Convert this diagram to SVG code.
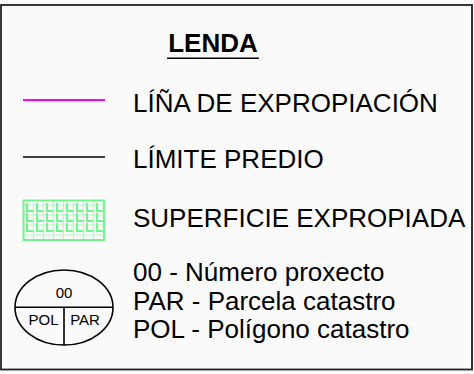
<svg xmlns="http://www.w3.org/2000/svg" width="474" height="374" viewBox="0 0 474 374">
<style>
text{font-family:"Liberation Sans",Arial,sans-serif;fill:#000}
.t{font-size:26px}
.s{font-size:15px;text-anchor:middle}
.g{stroke:#72f58e;stroke-width:2;fill:none}
.gl{stroke:#aaffbb;stroke-width:1.2;fill:none}
</style>
<rect x="0" y="0" width="474" height="374" fill="#fafafa"/>
<rect id="frame" x="1" y="5" width="471" height="364.5" fill="#fafafa" stroke="#222" stroke-width="1.8"/>
<g id="title">
<text x="213" y="52" font-size="26" font-weight="bold" text-anchor="middle">LENDA</text>
<line x1="167" y1="58.3" x2="259" y2="58.3" stroke="#000" stroke-width="1.6"/>
</g>
<g id="connectors">
<line x1="23" y1="100" x2="105" y2="100" stroke="#ff00ff" stroke-width="2"/>
<line x1="23" y1="157" x2="105" y2="157" stroke="#000" stroke-width="1.6"/>
</g>
<g id="item-linea"><text class="t" x="133" y="111.5">LÍÑA DE EXPROPIACIÓN</text></g>
<g id="item-limite"><text class="t" x="133" y="168">LÍMITE PREDIO</text></g>
<g id="item-superficie">
<g class="gl">
<path d="M23.5 205H104M23.5 215H104M23.5 225H104M23.5 235H104"/>
<path d="M33.5 200V240M43.5 200V240M53.5 200V240M63.5 200V240M73.5 200V240M83.5 200V240M93.5 200V240"/>
</g>
<g class="g">
<path d="M27 203V211H33M37 203V211H43M47 203V211H53M57 203V211H63M67 203V211H73M77 203V211H83M87 203V211H93M97 203V211H103"/>
<path d="M27 213V221H33M37 213V221H43M47 213V221H53M57 213V221H63M67 213V221H73M77 213V221H83M87 213V221H93M97 213V221H103"/>
<path d="M27 223V231H33M37 223V231H43M47 223V231H53M57 223V231H63M67 223V231H73M77 223V231H83M87 223V231H93M97 223V231H103"/>
<rect x="23.5" y="200.5" width="80.5" height="39.5"/>
</g>
<text class="t" x="133" y="227">SUPERFICIE EXPROPIADA</text>
</g>
<g id="item-key">
<ellipse cx="64" cy="307.5" rx="49" ry="37.5" fill="none" stroke="#000" stroke-width="1.6"/>
<line x1="15" y1="307.3" x2="113" y2="307.3" stroke="#000" stroke-width="1.6"/>
<line x1="64" y1="307.3" x2="64" y2="345" stroke="#000" stroke-width="1.6"/>
<text class="s" x="64" y="298">00</text>
<text class="s" x="43.5" y="325">POL</text>
<text class="s" x="85" y="325">PAR</text>
<text class="t" x="133" y="281">00 - Número proxecto</text>
<text class="t" x="133" y="309.5">PAR - Parcela catastro</text>
<text class="t" x="133" y="338">POL - Polígono catastro</text>
</g>
</svg>
